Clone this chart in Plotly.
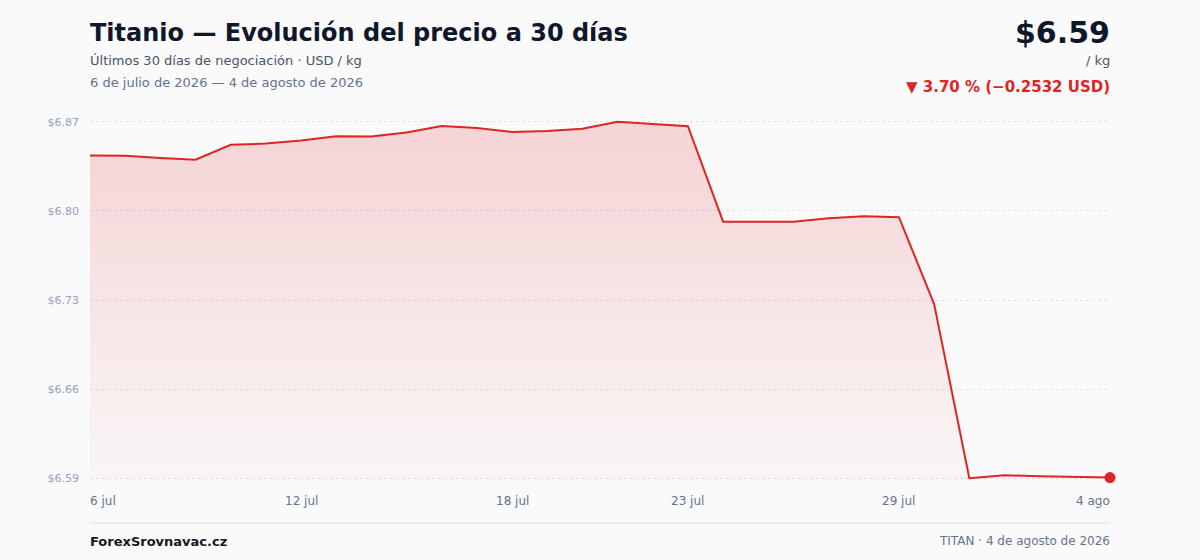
import plotly.graph_objects as go
import numpy as np

# ---------------- data ----------------
dates = [
    "2026-07-06", "2026-07-07", "2026-07-08", "2026-07-09", "2026-07-10",
    "2026-07-11", "2026-07-12", "2026-07-13", "2026-07-14", "2026-07-15",
    "2026-07-16", "2026-07-17", "2026-07-18", "2026-07-19", "2026-07-20",
    "2026-07-21", "2026-07-22", "2026-07-23", "2026-07-24", "2026-07-25",
    "2026-07-26", "2026-07-27", "2026-07-28", "2026-07-29", "2026-07-30",
    "2026-07-31", "2026-08-01", "2026-08-02", "2026-08-03", "2026-08-04",
]
prices = [
    6.8437, 6.8435, 6.8418, 6.8404, 6.8521,
    6.8531, 6.8555, 6.8589, 6.8586, 6.8618,
    6.8669, 6.8653, 6.8622, 6.8630, 6.8648,
    6.8702, 6.8684, 6.8667, 6.7917, 6.7917,
    6.7916, 6.7943, 6.7959, 6.7952, 6.7269,
    6.5900, 6.5923, 6.5915, 6.5910, 6.5905,
]
tick_dates = ["2026-07-06", "2026-07-12", "2026-07-18", "2026-07-23", "2026-07-29", "2026-08-04"]
tick_labels = ["6 jul", "12 jul", "18 jul", "23 jul", "29 jul", "4 ago"]

title = "Titanio — Evolución del precio a 30 días"
subtitle = "Últimos 30 días de negociación · USD / kg"
date_range = "6 de julio de 2026 — 4 de agosto de 2026"
footer_left = "ForexSrovnavac.cz"
footer_right = "TITAN · 4 de agosto de 2026"

# ---------------- styling ----------------
RED = "#dc2626"
BG = "#fafafa"
FONT = "DejaVu Sans"
W, H = 1200, 560
ML, MR, MT, MB = 90, 90, 120, 80
PLOT_H = H - MT - MB


def py(pix):
    """pixel y (from top) -> paper y"""
    return (H - MB - pix) / PLOT_H


ymin, ymax = min(prices), max(prices)
tickvals = list(np.linspace(ymin, ymax, 5))
ticktext = [f"${v:.2f}" for v in tickvals]
pad = (ymax - ymin) * 0.005

last = prices[-1]
first = prices[0]
chg = last - first
pct = abs(chg) / first * 100
arrow = "▼" if chg < 0 else "▲"
chg_text = f"{arrow} {pct:.2f} % ({'−' if chg < 0 else '+'}{abs(chg):.4f} USD)"

fig = go.Figure()

fig.add_trace(go.Scatter(
    x=dates, y=prices, mode="lines",
    line=dict(color=RED, width=2),
    fill="tozeroy",
    fillgradient=dict(
        type="vertical",
        start=ymin, stop=ymax,
        colorscale=[[0, "rgba(220,38,38,0.02)"], [1, "rgba(220,38,38,0.18)"]],
    ),
    cliponaxis=False,
    hoverinfo="skip",
    showlegend=False,
))
fig.add_trace(go.Scatter(
    x=[dates[-1]], y=[prices[-1]], mode="markers",
    marker=dict(color=RED, size=11),
    cliponaxis=False, hoverinfo="skip", showlegend=False,
))


def ann(text, x, y, xanchor, size, color, xref="paper"):
    return dict(text=text, x=x, y=y, xref=xref, yref="paper",
                xanchor=xanchor, yanchor="middle", showarrow=False,
                borderpad=0, borderwidth=0,
                font=dict(family=FONT, size=size, color=color))


annotations = [
    ann(f"<b>{title}</b>", 0, py(33), "left", 24, "#0f172a"),
    ann(subtitle, 0, py(61), "left", 13, "#475569"),
    ann(date_range, 0, py(83), "left", 13, "#64748b"),
    ann(f"<b>${last:.2f}</b>", 1, py(32), "right", 30, "#0f172a"),
    ann("/ kg", 1, py(61), "right", 13, "#475569"),
    ann(f"<b>{chg_text}</b>", 1, py(87), "right", 15, RED),
    ann(f"<b>{footer_left}</b>", 0, py(541), "left", 13, "#111827"),
    ann(footer_right, 1, py(541), "right", 12, "#64748b"),
]
for i, (d, lab) in enumerate(zip(tick_dates, tick_labels)):
    anchor = "left" if i == 0 else ("right" if i == len(tick_dates) - 1 else "center")
    annotations.append(ann(lab, d, py(501), anchor, 12, "#64748b", xref="x"))

fig.update_layout(
    width=W, height=H,
    margin=dict(l=ML, r=MR, t=MT, b=MB),
    paper_bgcolor=BG, plot_bgcolor=BG,
    font=dict(family=FONT),
    hovermode=False,
    annotations=annotations,
    shapes=[dict(type="line", xref="paper", yref="paper", x0=0, x1=1,
                 y0=py(523), y1=py(523), line=dict(color="#e5e7eb", width=1.5))],
    xaxis=dict(
        type="date", range=[dates[0], dates[-1]],
        showgrid=False, zeroline=False, showline=False,
        showticklabels=False, ticks="", fixedrange=True,
    ),
    yaxis=dict(
        range=[ymin - pad, ymax + pad],
        tickvals=tickvals, ticktext=ticktext,
        showgrid=True, gridcolor="#dde1e6", griddash="3px,3px", gridwidth=1,
        zeroline=False, showline=False, ticks="",
        ticklabelstandoff=10,
        tickfont=dict(family=FONT, size=11, color="#94a3b8"),
        fixedrange=True,
    ),
)

fig.write_html(
    "out.html",
    config={"displayModeBar": False},
    post_script="document.body.style.margin='0';document.body.style.background='#fafafa';",
)
